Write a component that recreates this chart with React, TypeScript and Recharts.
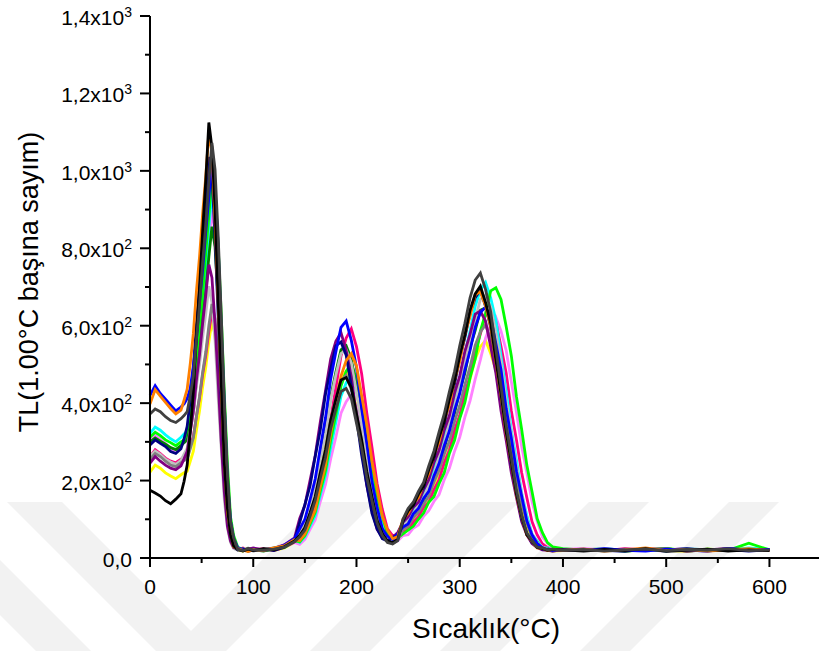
import React from "react";
import { LineChart, Line, XAxis, YAxis } from "recharts";

// temperature grid (°C) – denser around the first narrow peak
const temps = [
  0, 5, 10, 15, 20, 25, 30,
  33, 36, 39, 42, 45, 48, 51, 54, 57, 60, 63, 66, 69, 72, 75, 78, 81,
  85, 90, 95, 100, 110, 120, 130, 140,
  145, 150, 155, 160, 165, 170, 175, 180, 185, 190, 195, 200, 205, 210, 215, 220, 225, 230, 235, 240,
  245, 250, 255, 260, 265, 270, 275, 280, 285, 290, 295, 300, 305, 310, 315, 320, 325, 330, 335, 340, 345, 350, 355, 360, 365, 370, 375, 380, 385, 390,
  400, 420, 440, 460, 480, 500, 520, 540, 560, 580, 600,
];

const yellow = [
  222, 240, 232, 220, 212, 205, 215,
  220, 224, 250, 276, 330, 380, 442, 492, 558, 612, 574, 476, 360, 230, 126, 54, 34,
  21, 18, 24, 20, 23, 19, 26, 40,
  56, 84, 112, 166, 218, 292, 356, 426, 462, 482, 444, 388, 304, 234, 155, 103, 60, 44, 39, 47,
  68, 76, 98, 110, 132, 148, 182, 210, 250, 282, 328, 366, 418, 462, 514, 546, 562, 528, 486, 410, 340, 260, 198, 132, 86, 48, 35, 22, 21, 18,
  19, 21, 24, 18, 22, 20, 17, 23, 21, 19, 22,
];
const violet = [
  300, 318, 306, 296, 282, 276, 290,
  298, 305, 342, 384, 465, 542, 636, 712, 812, 898, 840, 698, 526, 338, 184, 80, 45,
  27, 22, 20, 25, 21, 24, 28, 40,
  35, 48, 74, 98, 146, 190, 256, 312, 374, 404, 422, 388, 340, 266, 205, 136, 90, 54, 42, 44,
  58, 60, 77, 85, 108, 122, 146, 164, 202, 232, 276, 312, 364, 406, 462, 512, 568, 604, 622, 586, 536, 455, 376, 288, 220, 146, 95, 55, 38, 24,
  22, 25, 20, 23, 19, 21, 24, 20, 22, 25, 21,
];
const magenta = [
  262, 280, 270, 258, 250, 246, 255,
  262, 264, 290, 314, 366, 414, 474, 522, 585, 636, 598, 496, 374, 240, 130, 57, 35,
  22, 26, 19, 21, 24, 20, 27, 42,
  48, 68, 104, 138, 204, 268, 358, 440, 522, 568, 592, 546, 476, 374, 286, 192, 126, 75, 58, 60,
  66, 74, 92, 106, 131, 144, 176, 202, 246, 278, 330, 368, 426, 470, 534, 578, 630, 638, 610, 546, 478, 380, 304, 220, 156, 94, 60, 37, 27, 20,
  20, 22, 19, 24, 21, 18, 23, 20, 22, 19, 21,
];
const cyan = [
  322, 338, 330, 318, 308, 300, 312,
  320, 328, 366, 410, 492, 575, 670, 750, 854, 942, 882, 732, 552, 356, 192, 84, 47,
  25, 21, 18, 23, 20, 26, 31, 48,
  40, 55, 82, 110, 163, 214, 285, 350, 418, 452, 472, 434, 380, 298, 228, 152, 100, 60, 48, 46,
  88, 96, 124, 140, 166, 190, 230, 266, 316, 358, 416, 466, 528, 586, 650, 692, 712, 672, 614, 522, 430, 330, 252, 168, 110, 62, 44, 27, 26, 20,
  23, 20, 25, 19, 22, 18, 24, 21, 20, 26, 22,
];
const green = [
  312, 325, 316, 305, 298, 290, 300,
  305, 324, 352, 414, 490, 594, 682, 788, 884, 986, 944, 808, 628, 422, 242, 106, 58,
  28, 22, 20, 24, 19, 23, 27, 44,
  42, 58, 88, 118, 174, 226, 304, 370, 444, 482, 502, 462, 404, 316, 244, 162, 108, 63, 50, 52,
  62, 72, 82, 100, 116, 144, 158, 192, 220, 270, 304, 360, 402, 466, 514, 586, 632, 690, 698, 668, 598, 522, 416, 332, 240, 172, 102, 66, 40, 29,
  24, 20, 22, 18, 21, 25, 19, 23, 20, 38, 21,
];
const darkGreen = [
  300, 310, 302, 294, 285, 280, 290,
  298, 305, 340, 378, 454, 525, 612, 686, 778, 856, 804, 668, 502, 324, 175, 76, 43,
  23, 19, 25, 21, 18, 24, 30, 46,
  68, 92, 135, 184, 256, 326, 416, 480, 538, 548, 514, 436, 355, 260, 184, 114, 74, 48, 45, 54,
  76, 94, 108, 133, 148, 180, 204, 250, 282, 336, 374, 432, 478, 544, 588, 640, 646, 620, 555, 484, 386, 308, 225, 158, 95, 60, 40, 25, 24, 19,
  21, 23, 19, 22, 20, 24, 18, 21, 23, 19, 22,
];
const lightGray = [
  262, 276, 268, 255, 248, 242, 252,
  268, 284, 328, 374, 444, 500, 570, 630, 702, 660, 564, 416, 284, 150, 78, 40, 25,
  20, 24, 21, 19, 23, 25, 30, 48,
  66, 90, 132, 182, 252, 320, 408, 472, 528, 538, 504, 428, 350, 256, 180, 112, 72, 48, 44, 53,
  80, 98, 114, 138, 154, 188, 214, 262, 296, 350, 390, 452, 500, 568, 616, 668, 678, 648, 582, 506, 404, 322, 236, 166, 100, 62, 40, 28, 23, 21,
  23, 21, 25, 19, 22, 20, 24, 21, 23, 20, 22,
];
const gray = [
  255, 270, 262, 250, 240, 236, 246,
  252, 256, 282, 310, 366, 418, 480, 532, 600, 656, 618, 512, 386, 248, 134, 58, 36,
  23, 20, 25, 18, 22, 26, 29, 45,
  58, 78, 116, 156, 220, 278, 356, 410, 458, 472, 434, 380, 298, 228, 152, 100, 60, 43, 37, 48,
  74, 82, 104, 118, 140, 160, 196, 226, 268, 302, 352, 394, 448, 494, 550, 584, 602, 566, 520, 440, 364, 278, 212, 142, 92, 52, 37, 23, 22, 18,
  22, 20, 19, 23, 21, 24, 18, 22, 20, 23, 19,
];
const purple = [
  245, 262, 250, 240, 232, 228, 238,
  256, 276, 326, 380, 460, 526, 606, 678, 758, 724, 604, 460, 300, 170, 82, 44, 27,
  24, 20, 23, 26, 21, 25, 34, 52,
  102, 136, 200, 264, 352, 432, 514, 560, 582, 536, 468, 368, 282, 188, 124, 74, 54, 45, 53, 66,
  92, 106, 131, 144, 176, 202, 246, 278, 330, 368, 426, 470, 534, 578, 630, 638, 612, 546, 478, 380, 304, 220, 156, 94, 60, 37, 27, 21, 20, 18,
  21, 19, 23, 20, 24, 22, 18, 21, 25, 20, 22,
];
const navy = [
  292, 305, 296, 288, 275, 270, 282,
  308, 340, 408, 490, 604, 702, 818, 920, 1036, 992, 826, 628, 412, 232, 112, 58, 30,
  21, 24, 18, 20, 23, 19, 28, 46,
  92, 138, 186, 262, 332, 424, 488, 548, 558, 524, 444, 362, 266, 188, 115, 75, 50, 44, 52, 60,
  94, 120, 135, 162, 182, 226, 258, 308, 348, 404, 450, 515, 570, 632, 672, 692, 650, 596, 508, 410, 328, 238, 168, 100, 64, 40, 29, 23, 21, 20,
  19, 22, 20, 17, 23, 21, 24, 19, 22, 18, 21,
];
const blue = [
  420, 445, 425, 410, 395, 380, 390,
  398, 412, 438, 496, 565, 662, 744, 842, 930, 1028, 952, 808, 592, 396, 202, 95, 50,
  26, 21, 19, 23, 20, 24, 33, 50,
  75, 100, 150, 204, 285, 362, 462, 532, 596, 612, 562, 492, 386, 296, 198, 130, 76, 56, 48, 62,
  80, 88, 114, 128, 154, 172, 212, 244, 290, 328, 382, 425, 486, 536, 596, 634, 648, 622, 554, 486, 386, 310, 224, 160, 96, 60, 38, 27, 22, 20,
  22, 19, 24, 20, 18, 23, 21, 17, 25, 20, 22,
];
const orange = [
  398, 435, 418, 402, 386, 372, 382,
  408, 436, 502, 580, 690, 779, 890, 985, 1098, 1048, 872, 664, 436, 246, 118, 63, 29,
  24, 20, 17, 22, 19, 26, 31, 47,
  45, 62, 93, 124, 184, 240, 322, 394, 470, 510, 528, 496, 420, 344, 250, 178, 108, 72, 50, 55,
  100, 115, 141, 156, 190, 218, 266, 300, 356, 396, 460, 508, 578, 624, 680, 688, 652, 598, 506, 418, 320, 246, 162, 106, 60, 43, 26, 25, 19, 22,
  20, 23, 18, 21, 26, 19, 22, 18, 21, 24, 19,
];
const black = [
  175, 168, 160, 148, 140, 152, 166,
  198, 240, 325, 430, 575, 698, 845, 975, 1125, 1060, 905, 668, 455, 244, 128, 60, 31,
  22, 18, 23, 19, 24, 21, 29, 44,
  58, 78, 116, 158, 220, 279, 356, 410, 460, 466, 440, 372, 305, 222, 158, 96, 63, 44, 40, 48,
  96, 122, 137, 165, 186, 228, 262, 312, 352, 410, 458, 522, 576, 640, 682, 702, 660, 606, 512, 424, 325, 248, 164, 108, 60, 44, 27, 25, 20, 22,
  21, 18, 22, 19, 24, 17, 20, 23, 18, 21, 19,
];
const darkGray = [
  372, 385, 378, 365, 355, 350, 360,
  368, 378, 420, 470, 564, 656, 764, 858, 972, 1072, 1004, 834, 628, 404, 218, 95, 52,
  22, 19, 24, 21, 20, 23, 28, 42,
  55, 72, 108, 148, 206, 260, 334, 384, 430, 438, 412, 348, 285, 208, 148, 90, 58, 40, 36, 45,
  100, 128, 144, 172, 195, 238, 276, 326, 372, 430, 482, 548, 606, 672, 718, 736, 694, 636, 540, 444, 342, 260, 174, 112, 64, 45, 28, 26, 21, 23,
  20, 22, 18, 21, 23, 19, 22, 20, 24, 19, 21,
];

const xTicks = [0, 50, 100, 150, 200, 250, 300, 350, 400, 450, 500, 550, 600];
const yTicks = [0, 100, 200, 300, 400, 500, 600, 700, 800, 900, 1000, 1100, 1200, 1300, 1400];

// draw order: last one ends up on top
const series = [
  { key: "yellow", color: "#ffff00", values: yellow },
  { key: "violet", color: "#ff80ff", values: violet },
  { key: "magenta", color: "#ff0080", values: magenta },
  { key: "cyan", color: "#00ffff", values: cyan },
  { key: "green", color: "#00ff00", values: green },
  { key: "darkGreen", color: "#008000", values: darkGreen },
  { key: "lightGray", color: "#c0c0c0", values: lightGray },
  { key: "gray", color: "#808080", values: gray },
  { key: "purple", color: "#800080", values: purple },
  { key: "navy", color: "#000080", values: navy },
  { key: "blue", color: "#0000ff", values: blue },
  { key: "orange", color: "#ff8000", values: orange },
  { key: "black", color: "#000000", values: black },
  { key: "darkGray", color: "#404040", values: darkGray },
];

const rows = temps.map((t, i) => {
  const row: Record<string, number> = { t };
  series.forEach((s) => (row[s.key] = s.values[i]));
  return row;
});

const FONT = "'Liberation Sans', Arial, sans-serif";

function XTick({ x, y, payload }: any) {
  const v = payload.value;
  const major = v % 100 === 0;
  return (
    <g>
      <line x1={x} x2={x} y1={y} y2={y + (major ? 9 : 5)} stroke="#000" strokeWidth={2} />
      {major && (
        <text x={x} y={y + 36} textAnchor="middle" fontSize={21} fontFamily={FONT} fill="#000">
          {v}
        </text>
      )}
    </g>
  );
}

function YTick({ x, y, payload }: any) {
  const v = payload.value;
  const major = v % 200 === 0;
  let label = null;
  if (major) {
    if (v === 0) {
      label = (
        <text x={x - 18} y={y + 9} textAnchor="end" fontSize={21} fontFamily={FONT} fill="#000">
          0,0
        </text>
      );
    } else {
      const e = v >= 1000 ? 3 : 2;
      const m = (v / Math.pow(10, e)).toFixed(1).replace(".", ",");
      label = (
        <text x={x - 18} y={y + 9} textAnchor="end" fontSize={21} fontFamily={FONT} fill="#000">
          {m}x10
          <tspan dy={-8} fontSize={14}>
            {e}
          </tspan>
        </text>
      );
    }
  }
  return (
    <g>
      <line x1={x - (major ? 10 : 5)} x2={x} y1={y} y2={y} stroke="#000" strokeWidth={2} />
      {label}
    </g>
  );
}

// faint watermark bands behind the plot
const watermark = [
  "7,502 62,502 211,651 156,651",
  "0,560 0,615 36,651 91,651",
  "320,502 375,502 226,651 171,651",
  "459,502 519,502 370,651 310,651",
  "589,502 649,502 500,651 440,651",
  "729,502 779,502 630,651 580,651",
];

export default function App() {
  return (
    <div style={{ position: "absolute", left: 0, top: 0, width: 819, height: 651, background: "#fff" }}>
      <svg width={819} height={651} style={{ position: "absolute", left: 0, top: 0 }}>
        {watermark.map((p, i) => (
          <polygon key={i} points={p} fill="#f2f2f2" />
        ))}
      </svg>
      <div style={{ position: "absolute", left: 0, top: 0 }}>
        <LineChart width={819} height={651} data={rows} margin={{ top: 16, right: 0, bottom: 0, left: 0 }}>
          <XAxis
            dataKey="t"
            type="number"
            domain={[0, 648]}
            ticks={xTicks}
            interval={0}
            height={93}
            tickSize={0}
            tickMargin={0}
            tickLine={false}
            axisLine={{ stroke: "#000", strokeWidth: 2 }}
            tick={(p: any) => <XTick {...p} />}
          />
          <YAxis
            type="number"
            domain={[0, 1400]}
            ticks={yTicks}
            interval={0}
            width={150}
            tickSize={0}
            tickMargin={0}
            tickLine={false}
            axisLine={{ stroke: "#000", strokeWidth: 2 }}
            tick={(p: any) => <YTick {...p} />}
          />
          {series.map((s) => (
            <Line
              key={s.key}
              dataKey={s.key}
              type="linear"
              stroke={s.color}
              strokeWidth={2.8}
              dot={false}
              isAnimationActive={false}
            />
          ))}
        </LineChart>
      </div>
      <svg width={819} height={651} style={{ position: "absolute", left: 0, top: 0, pointerEvents: "none" }}>
        <text x={486} y={638} textAnchor="middle" fontSize={28} fontFamily={FONT} fill="#000">
          Sıcaklık(°C)
        </text>
        <text
          transform="translate(38,282) rotate(-90)"
          textAnchor="middle"
          fontSize={27}
          fontFamily={FONT}
          fill="#000"
        >
          TL(1.00°C başına sayım)
        </text>
      </svg>
    </div>
  );
}
